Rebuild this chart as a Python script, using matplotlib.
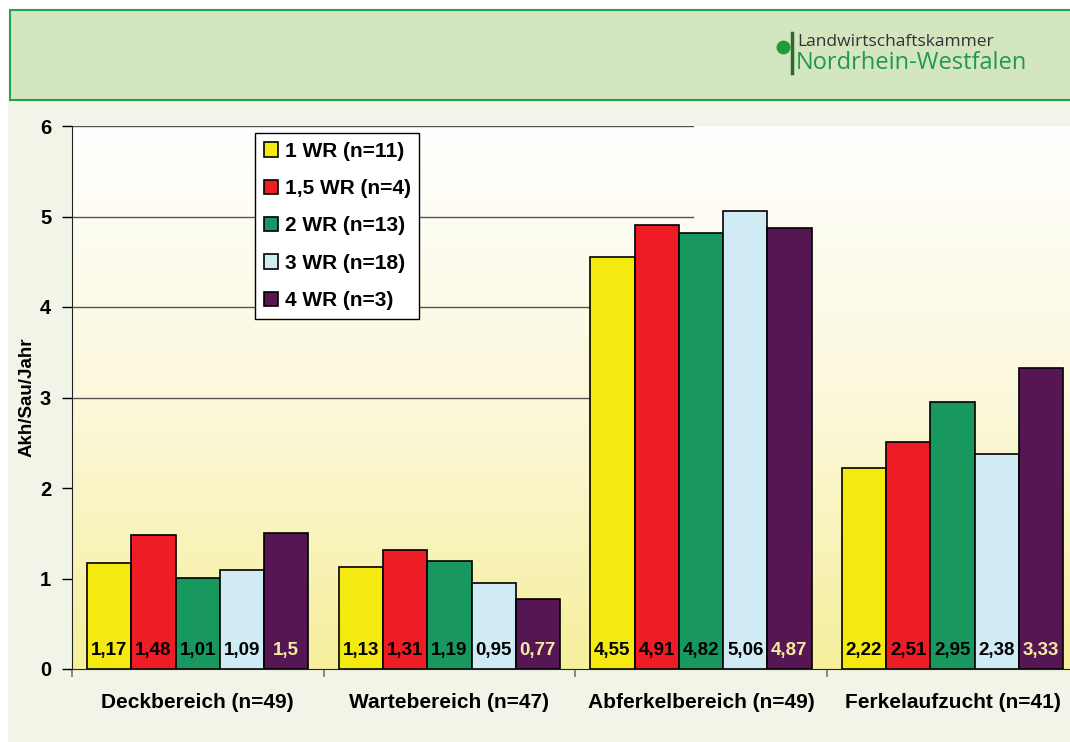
import numpy as np
import matplotlib
matplotlib.use("Agg")
import matplotlib.pyplot as plt
from matplotlib.patches import Rectangle
from matplotlib.colors import LinearSegmentedColormap

plt.rcParams['font.family'] = ['Liberation Sans', 'DejaVu Sans']

bereiche = ["Deckbereich (n=49)", "Wartebereich (n=47)", "Abferkelbereich (n=49)", "Ferkelaufzucht (n=41)"]
gruppen = ["1 WR (n=11)", "1,5 WR (n=4)", "2 WR (n=13)", "3 WR (n=18)", "4 WR (n=3)"]
werte = [
    [1.17, 1.13, 4.55, 2.22],
    [1.48, 1.31, 4.91, 2.51],
    [1.01, 1.19, 4.82, 2.95],
    [1.09, 0.95, 5.06, 2.38],
    [1.50, 0.77, 4.87, 3.33],
]
farben = ["#f4ea10", "#ee1c25", "#18975e", "#d0ebf3", "#561654"]
textfarben = ["black", "black", "black", "black", "#f3e9a0"]

W, H = 1070, 742
fig = plt.figure(figsize=(W / 100, H / 100), dpi=100)
fig.patch.set_facecolor("white")

# Hintergrund und Kopfzeile
fig.patches.append(Rectangle((8 / W, 0), 1, 1 - 100 / H, transform=fig.transFigure,
                             facecolor="#f1f5e7", edgecolor="none", zorder=-10))
fig.patches.append(Rectangle((10 / W, 1 - 100 / H), 1.0, 90 / H, transform=fig.transFigure,
                             facecolor="#d3e6bf", edgecolor="#22a352", lw=1.5, zorder=-9))
fig.add_artist(plt.Line2D([783 / W], [1 - 47 / H], marker="o", markersize=10,
                          color="#1f9a40", markeredgewidth=0))
fig.add_artist(plt.Line2D([792 / W, 792 / W], [1 - 33 / H, 1 - 73 / H], color="#2d6a33", lw=2.5))
fig.text(797 / W, 1 - 42 / H, "Landwirtschaftskammer", fontsize=12.5, color="#333333",
         family="Open Sans", va="center", ha="left")
fig.text(796 / W, 1 - 63 / H, "Nordrhein-Westfalen", fontsize=17, color="#1f9a4a",
         family="Open Sans", va="center", ha="left")

ax = fig.add_axes([72 / W, 1 - 669 / H, 1 - 72 / W, (669 - 126) / H])
ax.set_facecolor("none")

# Farbverlauf im Diagrammbereich
verlauf = LinearSegmentedColormap.from_list("v", ["#f6ef9c", "#fcf8dc", "#ffffff"])
grad = np.linspace(0, 1, 256).reshape(-1, 1)
ax.imshow(grad, extent=[0, 1, 0, 1], transform=ax.transAxes, cmap=verlauf,
          origin="lower", aspect="auto", zorder=0)

x = np.arange(len(bereiche))
breite = 0.176
for i in range(len(gruppen)):
    pos = x + (i - 2) * breite
    ax.bar(pos, werte[i], breite, color=farben[i], edgecolor="black", lw=1.2,
           label=gruppen[i], zorder=3)
    for xp, v in zip(pos, werte[i]):
        ax.text(xp, 0.2, ("%g" % v).replace(".", ","), ha="center", va="center",
                fontsize=13.5, fontweight="bold", color=textfarben[i], zorder=4)

for g in [3, 4, 5, 6]:
    ax.axhline(g, xmin=0, xmax=(693 - 72) / (W - 72), color="#555555", lw=1, zorder=1)

ax.set_xlim(-0.5, 3.467)
ax.set_ylim(0, 6)
ax.set_yticks(range(7))
ax.tick_params(axis="y", length=7, width=1, pad=8, labelsize=14.5)
for t in ax.get_yticklabels():
    t.set_fontweight("bold")
ax.set_xticks([-0.5, 0.5, 1.5, 2.5])
ax.set_xticklabels([])
ax.tick_params(axis="x", which="major", length=6, width=1.2, color="#777777")
ax.set_xticks(x, minor=True)
ax.set_xticklabels(bereiche, minor=True, fontsize=15, fontweight="bold")
ax.tick_params(axis="x", which="minor", length=0, pad=17)
ax.set_ylabel("Akh/Sau/Jahr", fontsize=13.5, fontweight="bold", labelpad=3)

for s in ["top", "right"]:
    ax.spines[s].set_visible(False)
ax.spines["left"].set_color("#222222")
ax.spines["bottom"].set_color("#222222")

leg = ax.legend(loc="upper left", bbox_to_anchor=((255 - 72) / (W - 72), 1 - 7 / 543),
                borderaxespad=0,
                prop={"weight": "bold", "size": 15}, frameon=True, fancybox=False,
                edgecolor="black", facecolor="white", framealpha=1,
                handlelength=0.7, handleheight=0.7, handletextpad=0.3,
                labelspacing=0.88, borderpad=0.42)
leg.get_frame().set_linewidth(1)

fig.savefig("out.png", dpi=100)
